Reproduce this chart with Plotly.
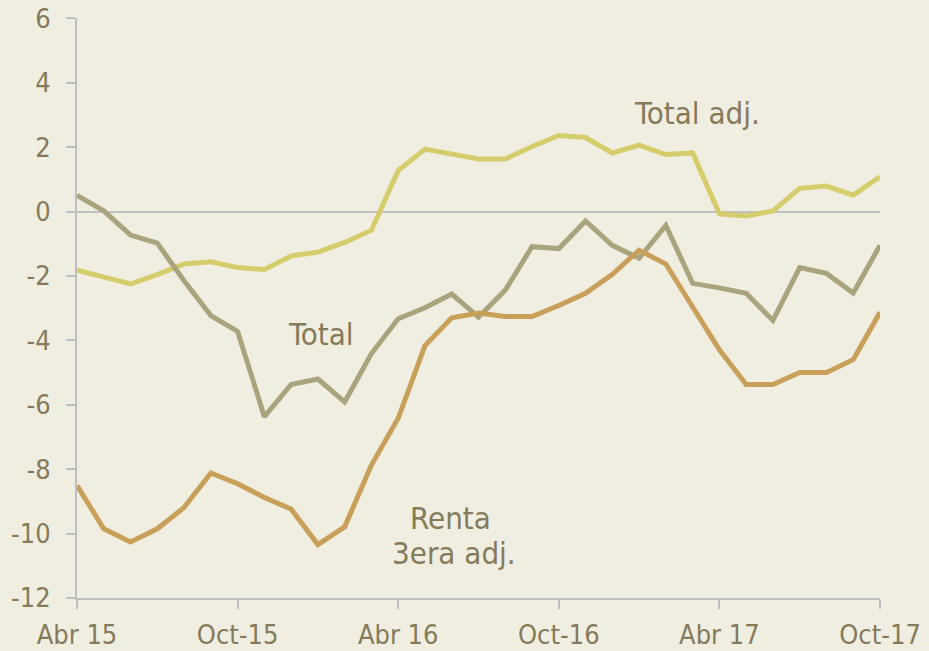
import plotly.graph_objects as go

months = list(range(31))
tick_pos = [0, 6, 12, 18, 24, 30]
tick_labels = ["Abr 15", "Oct-15", "Abr 16", "Oct-16", "Abr 17", "Oct-17"]
y_ticks = [-12, -10, -8, -6, -4, -2, 0, 2, 4, 6]
y_labels = ["-12", "-10", "-8", "-6", "-4", "-2", "0", "2", "4", "6"]

total_adj = [-1.82, -2.05, -2.25, -1.96, -1.63, -1.56, -1.74, -1.80, -1.38, -1.26,
             -0.96, -0.58, 1.27, 1.94, 1.80, 1.63, 1.63, 2.02, 2.36, 2.30,
             1.82, 2.06, 1.77, 1.82, -0.07, -0.14, 0.02, 0.72, 0.79, 0.51, 1.08]
total = [0.50, 0.02, -0.73, -0.98, -2.15, -3.23, -3.72, -6.37, -5.37, -5.20,
         -5.91, -4.41, -3.33, -2.99, -2.56, -3.28, -2.44, -1.09, -1.15, -0.29,
         -1.05, -1.45, -0.43, -2.23, -2.37, -2.54, -3.38, -1.74, -1.92, -2.53, -1.05]
renta = [-8.51, -9.85, -10.26, -9.85, -9.19, -8.12, -8.45, -8.88, -9.24, -10.34,
         -9.79, -7.87, -6.42, -4.16, -3.30, -3.15, -3.26, -3.26, -2.92, -2.54,
         -1.95, -1.20, -1.63, -2.95, -4.29, -5.37, -5.37, -5.00, -5.00, -4.60, -3.13]

bg = "#F0EEE1"
txt = "#857A5A"
axc = "#BFBFBF"
font = "DejaVu Sans Condensed"

fig = go.Figure()
fig.add_trace(go.Scatter(x=months, y=total_adj, mode="lines", name="Total adj.",
                         line=dict(color="#D5CD6B", width=5)))
fig.add_trace(go.Scatter(x=months, y=total, mode="lines", name="Total",
                         line=dict(color="#A9A47D", width=5)))
fig.add_trace(go.Scatter(x=months, y=renta, mode="lines", name="Renta 3era adj.",
                         line=dict(color="#C9A05A", width=5)))

afont = dict(family=font, size=31, color=txt)
fig.add_annotation(x=23.16, y=3.07, text="Total adj.", showarrow=False, font=afont)
fig.add_annotation(x=9.1, y=-3.81, text="Total", showarrow=False, font=afont)
fig.add_annotation(x=13.95, y=-9.52, text="Renta", showarrow=False, font=afont)
fig.add_annotation(x=14.08, y=-10.6, text="3era adj.", showarrow=False, font=afont)

fig.update_layout(
    width=929, height=651, autosize=False,
    margin=dict(l=77, r=49, t=18, b=53, autoexpand=False),
    paper_bgcolor=bg, plot_bgcolor=bg,
    showlegend=False,
    font=dict(family=font, size=27, color=txt),
)
fig.update_xaxes(range=[0, 30], tickvals=tick_pos, ticktext=tick_labels, automargin=False,
                 showgrid=False, zeroline=False, showline=True, linecolor=axc, linewidth=2,
                 ticks="outside", ticklen=9, tickwidth=2, tickcolor=axc,
                 ticklabelstandoff=3,
                 tickfont=dict(family=font, size=27, color=txt))
fig.update_yaxes(range=[-12, 6.01], tickvals=y_ticks, ticktext=y_labels, automargin=False,
                 showgrid=False, zeroline=True, zerolinecolor=axc, zerolinewidth=2,
                 showline=True, linecolor=axc, linewidth=2,
                 ticks="outside", ticklen=9, tickwidth=2, tickcolor=axc,
                 ticklabelstandoff=10,
                 tickfont=dict(family=font, size=27, color=txt))

fig.write_html("out.html", config={"displayModeBar": False},
               post_script="document.body.style.margin='0px';")
